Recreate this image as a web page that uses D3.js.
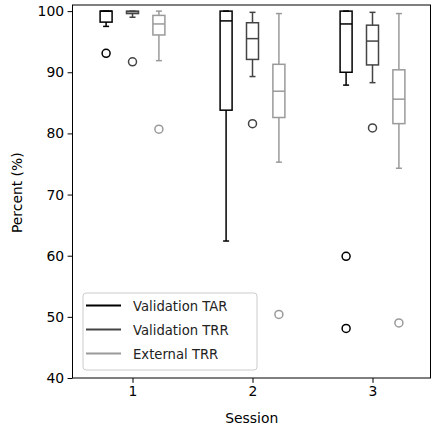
<!DOCTYPE html>
<html>
<head>
<meta charset="utf-8">
<script src="https://cdn.jsdelivr.net/npm/d3@7"></script>
<style>
  body { margin: 0; background: #fff; }
  svg { font-family: "DejaVu Sans", sans-serif; }
</style>
</head>
<body>
<div id="chart"></div>
<script>
// box statistics, one entry per session
const sessions = [1, 2, 3];
const seriesNames = ["Validation TAR", "Validation TRR", "External TRR"];
const seriesColors = ["#000000", "#444444", "#9a9a9a"];

// [lower whisker, q1, median, q3, upper whisker]
const tarBoxes = [[97.5, 98.2, 100, 100, 100], [62.4, 83.8, 98.4, 100, 100], [87.9, 90.0, 97.9, 100, 100]];
const trrBoxes = [[99.0, 99.6, 99.9, 100, 100], [89.3, 92.1, 95.5, 98.1, 99.8], [88.3, 91.2, 95.1, 97.7, 99.8]];
const extBoxes = [[91.9, 96.1, 97.9, 99.3, 100], [75.3, 82.6, 86.9, 91.3, 99.6], [74.3, 81.6, 85.6, 90.4, 99.6]];

const tarFliers = [[93.1], [], [59.9, 48.1]];
const trrFliers = [[91.7], [81.6], [80.9]];
const extFliers = [[80.7], [50.4], [49.0]];

const yTicks = [40, 50, 60, 70, 80, 90, 100];

const width = 431, height = 430;
const margin = {top: 5, right: 0.5, bottom: 52, left: 72.5};

const svg = d3.select("#chart").append("svg")
  .attr("width", width)
  .attr("height", height);

const x = d3.scaleLinear()
  .domain([0.5, 3.5])
  .range([margin.left, margin.left + 360]);

const y = d3.scaleLinear()
  .domain([40, 101])
  .range([height - margin.bottom, margin.top]);

const offsets = [-0.22, 0, 0.22];
const boxW = 0.1;

const series = [
  {boxes: tarBoxes, fliers: tarFliers},
  {boxes: trrBoxes, fliers: trrFliers},
  {boxes: extBoxes, fliers: extFliers},
];

const plot = svg.append("g");

series.forEach((s, si) => {
  const color = seriesColors[si];
  s.boxes.forEach((b, i) => {
    const cx = sessions[i] + offsets[si];
    const [lo, q1, med, q3, hi] = b;
    const g = plot.append("g")
      .attr("stroke", color)
      .attr("stroke-width", 1.5)
      .attr("fill", "none");

    // whiskers
    g.append("line")
      .attr("x1", x(cx)).attr("x2", x(cx))
      .attr("y1", y(q1)).attr("y2", y(lo));
    g.append("line")
      .attr("x1", x(cx)).attr("x2", x(cx))
      .attr("y1", y(q3)).attr("y2", y(hi));
    // caps
    [lo, hi].forEach(v => {
      g.append("line")
        .attr("x1", x(cx - boxW / 4)).attr("x2", x(cx + boxW / 4))
        .attr("y1", y(v)).attr("y2", y(v));
    });
    // box
    g.append("rect")
      .attr("x", x(cx - boxW / 2))
      .attr("y", y(q3))
      .attr("width", x(cx + boxW / 2) - x(cx - boxW / 2))
      .attr("height", y(q1) - y(q3));
    // median
    g.append("line")
      .attr("x1", x(cx - boxW / 2)).attr("x2", x(cx + boxW / 2))
      .attr("y1", y(med)).attr("y2", y(med));

    // outliers
    g.selectAll("circle")
      .data(s.fliers[i]).enter()
      .append("circle")
      .attr("cx", x(cx))
      .attr("cy", v => y(v))
      .attr("r", 4)
      .attr("stroke-width", 1.5);
  });
});

// axes
const yAxis = svg.append("g")
  .attr("transform", `translate(${margin.left},0)`)
  .call(d3.axisLeft(y).tickValues(yTicks).tickSize(4.9).tickPadding(3.5));

const xAxis = svg.append("g")
  .attr("transform", `translate(0,${height - margin.bottom})`)
  .call(d3.axisBottom(x).tickValues(sessions).tickFormat(d3.format("d")).tickSize(4.9).tickPadding(3.5));

[yAxis, xAxis].forEach(ax => {
  ax.select(".domain").remove();
  ax.selectAll("text").attr("font-size", 13.9).attr("fill", "#000").attr("font-family", "DejaVu Sans");
  ax.selectAll("line").attr("stroke", "#000").attr("stroke-width", 1);
});

// frame
svg.append("rect")
  .attr("x", margin.left)
  .attr("y", margin.top)
  .attr("width", width - margin.right - margin.left)
  .attr("height", height - margin.bottom - margin.top)
  .attr("fill", "none")
  .attr("stroke", "#000")
  .attr("stroke-width", 1);

// labels
svg.append("text")
  .attr("x", (margin.left + width) / 2)
  .attr("y", 423)
  .attr("text-anchor", "middle")
  .attr("font-size", 13.9)
  .text("Session");

svg.append("text")
  .attr("transform", `translate(22,${y(70.3)}) rotate(-90)`)
  .attr("text-anchor", "middle")
  .attr("font-size", 13.9)
  .text("Percent (%)");

// legend
const legend = svg.append("g").attr("transform", "translate(83,293)");
legend.append("rect")
  .attr("width", 174)
  .attr("height", 77)
  .attr("rx", 3)
  .attr("fill", "#fff")
  .attr("fill-opacity", 0.8)
  .attr("stroke", "#cccccc")
  .attr("stroke-width", 1);

seriesNames.forEach((name, i) => {
  const ly = 12.5 + i * 24;
  legend.append("line")
    .attr("x1", 3).attr("x2", 38)
    .attr("y1", ly).attr("y2", ly)
    .attr("stroke", seriesColors[i])
    .attr("stroke-width", 2);
  legend.append("text")
    .attr("x", 50)
    .attr("y", ly + 5)
    .attr("font-size", 13.2)
    .attr("fill", "#222")
    .text(name);
});
</script>
</body>
</html>
